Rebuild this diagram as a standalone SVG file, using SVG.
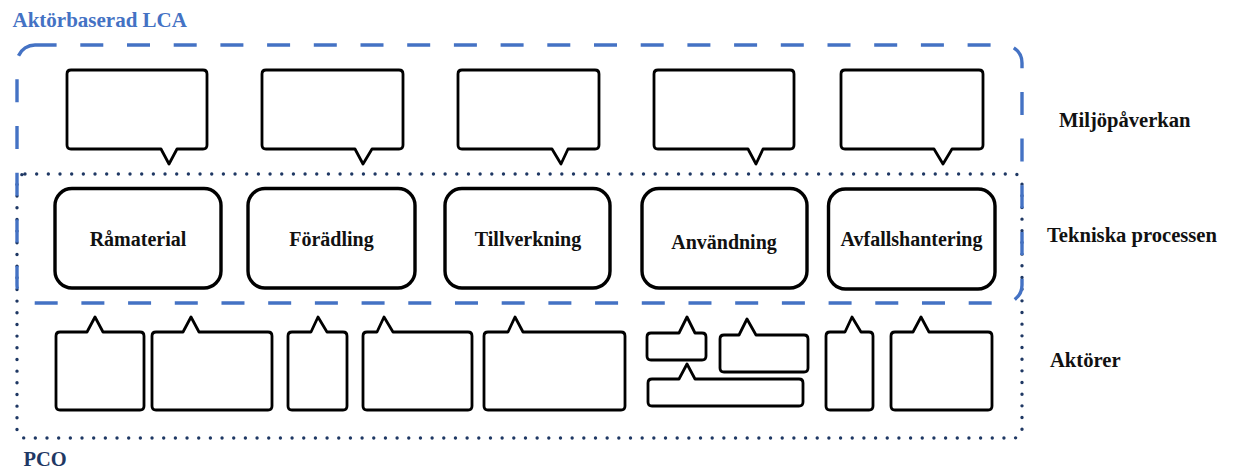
<svg xmlns="http://www.w3.org/2000/svg" width="1235" height="468" viewBox="0 0 1235 468">
<style>
.bg{fill:#ffffff}
.lca{fill:none;stroke:#4472C4;stroke-width:3.4;stroke-dasharray:23 23.7;stroke-dashoffset:1.4}
.pco{fill:none;stroke:#1F3864;stroke-width:3.4;stroke-linecap:round;stroke-dasharray:0 11.67}
.call{fill:#ffffff;stroke:#000000;stroke-width:2.8;stroke-linejoin:round}
.proc{fill:#ffffff;stroke:#000000;stroke-width:3.4}
.lbl{font-family:"Liberation Serif","Times New Roman",serif;font-weight:bold;font-size:20px;fill:#111111}
.row{font-size:20.6px}
.mid{text-anchor:middle}
.title{font-family:"Liberation Serif","Times New Roman",serif;font-weight:bold;font-size:21px;fill:#4472C4}
.pcot{font-family:"Liberation Serif","Times New Roman",serif;font-weight:bold;font-size:20.5px;fill:#1F3864}
</style>
<rect class="bg" x="0" y="0" width="1235" height="468"/>

<g id="frames">
  <rect id="pco-frame" class="pco" x="17" y="174" width="1005" height="264" rx="8" ry="8"/>
  <rect id="lca-frame" class="lca" x="17" y="45" width="1005" height="258" rx="18" ry="18"/>
</g>

<g id="titles">
  <text id="title-lca" class="title" x="12.5" y="27">Aktörbaserad LCA</text>
  <text id="title-pco" class="pcot" x="23.5" y="466">PCO</text>
</g>

<g id="row-labels">
  <text id="lbl-miljo" class="lbl row" x="1059" y="127">Miljöpåverkan</text>
  <text id="lbl-tekn" class="lbl row" x="1047" y="242">Tekniska processen</text>
  <text id="lbl-aktorer" class="lbl row" x="1050" y="367">Aktörer</text>
</g>

<g id="impact-callouts">
  <path id="imp1" class="call" d="M71,70 H203 Q207,70 207,74 V145 Q207,149 203,149 H177 L169,164 L161,149 H71 Q67,149 67,145 V74 Q67,70 71,70 Z"/>
  <path id="imp2" class="call" d="M266,70 H399 Q403,70 403,74 V145 Q403,149 399,149 H372 L363,164 L355,149 H266 Q262,149 262,145 V74 Q262,70 266,70 Z"/>
  <path id="imp3" class="call" d="M462,70 H595 Q599,70 599,74 V145 Q599,149 595,149 H568 L561,164 L552,149 H462 Q458,149 458,145 V74 Q458,70 462,70 Z"/>
  <path id="imp4" class="call" d="M658,70 H790 Q794,70 794,74 V145 Q794,149 790,149 H763 L756,164 L748,149 H658 Q654,149 654,145 V74 Q654,70 658,70 Z"/>
  <path id="imp5" class="call" d="M845,70 H979 Q983,70 983,74 V145 Q983,149 979,149 H952 L943,164 L934,149 H845 Q841,149 841,145 V74 Q841,70 845,70 Z"/>
</g>

<g id="node-ramaterial">
  <rect class="proc" x="55" y="188.5" width="166" height="99.5" rx="17" ry="17"/>
  <text class="lbl mid" x="138" y="246">Råmaterial</text>
</g>
<g id="node-foradling">
  <rect class="proc" x="248" y="188.5" width="167" height="99.5" rx="17" ry="17"/>
  <text class="lbl mid" x="331.5" y="246">Förädling</text>
</g>
<g id="node-tillverkning">
  <rect class="proc" x="445" y="188.5" width="165" height="99.5" rx="17" ry="17"/>
  <text class="lbl mid" x="528" y="245.5">Tillverkning</text>
</g>
<g id="node-anvandning">
  <rect class="proc" x="642" y="188.5" width="165" height="99.5" rx="17" ry="17"/>
  <text class="lbl mid" x="724" y="249">Användning</text>
</g>
<g id="node-avfall">
  <rect class="proc" x="828.5" y="189" width="166.5" height="100" rx="17" ry="17"/>
  <text class="lbl mid" x="911.5" y="245.5">Avfallshantering</text>
</g>

<g id="actor-callouts">
  <path id="act1" class="call" d="M60,332 H87 L95,317 L103,332 H140 Q144,332 144,336 V406 Q144,410 140,410 H60 Q56,410 56,406 V336 Q56,332 60,332 Z"/>
  <path id="act2" class="call" d="M156,332 H183 L191,317 L199,332 H268 Q272,332 272,336 V406 Q272,410 268,410 H156 Q152,410 152,406 V336 Q152,332 156,332 Z"/>
  <path id="act3" class="call" d="M292,332 H311 L318,317 L327,332 H343 Q347,332 347,336 V406 Q347,410 343,410 H292 Q288,410 288,406 V336 Q288,332 292,332 Z"/>
  <path id="act4" class="call" d="M367,332 H377 L384,317 L393,332 H468 Q472,332 472,336 V406 Q472,410 468,410 H367 Q363,410 363,406 V336 Q363,332 367,332 Z"/>
  <path id="act5" class="call" d="M488,332 H508 L515,317 L523,332 H621 Q625,332 625,336 V406 Q625,410 621,410 H488 Q484,410 484,406 V336 Q484,332 488,332 Z"/>
  <path id="act6" class="call" d="M651,333 H679 L687,317 L695,333 H702 Q706,333 706,337 V356 Q706,360 702,360 H651 Q647,360 647,356 V337 Q647,333 651,333 Z"/>
  <path id="act7" class="call" d="M724,335 H739 L747,319 L756,335 H804 Q808,335 808,339 V368 Q808,372 804,372 H724 Q720,372 720,368 V339 Q720,335 724,335 Z"/>
  <path id="act8" class="call" d="M652,379 H679 L687,364 L695,379 H799 Q803,379 803,383 V402 Q803,406 799,406 H652 Q648,406 648,402 V383 Q648,379 652,379 Z"/>
  <path id="act9" class="call" d="M830,332 H845 L852,317 L861,332 H869 Q873,332 873,336 V406 Q873,410 869,410 H830 Q826,410 826,406 V336 Q826,332 830,332 Z"/>
  <path id="act10" class="call" d="M895,332 H913 L921,317 L929,332 H988 Q992,332 992,336 V406 Q992,410 988,410 H895 Q891,410 891,406 V336 Q891,332 895,332 Z"/>
</g>
</svg>
